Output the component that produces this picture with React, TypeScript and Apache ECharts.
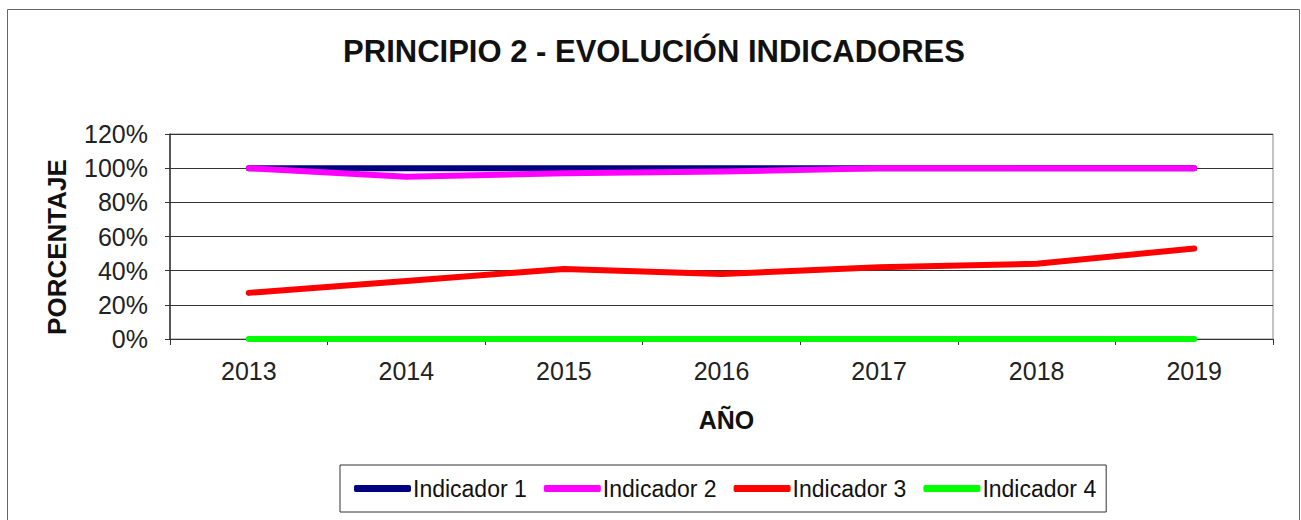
import React, { useEffect, useRef } from "react";
import * as echarts from "echarts";

const years = ["2013", "2014", "2015", "2016", "2017", "2018", "2019"];
const indicador1 = [100, 100, 100, 100, 100, 100, 100];
const indicador2 = [100, 95, 97, 98, 100, 100, 100];
const indicador3 = [27, 34, 41, 38, 42, 44, 53];
const indicador4 = [0, 0, 0, 0, 0, 0, 0];
const seriesNames = ["Indicador 1", "Indicador 2", "Indicador 3", "Indicador 4"];
const seriesColors = ["#000080", "#FF00FF", "#FF0000", "#00FF00"];

export default function App() {
  const ref = useRef<HTMLDivElement>(null);
  useEffect(() => {
    document.body.style.margin = "0";
    const chart = echarts.init(ref.current!, null, { renderer: "svg" });
    const font = "'Liberation Sans', Arial, sans-serif";
    const dataSets = [indicador1, indicador2, indicador3, indicador4];
    chart.setOption({
      animation: false,
      backgroundColor: "#ffffff",
      textStyle: { fontFamily: font },
      title: {
        text: "PRINCIPIO 2 - EVOLUCIÓN INDICADORES",
        left: 649,
        textAlign: "center",
        top: 31,
        textStyle: { fontFamily: font, fontSize: 31, fontWeight: "bold", color: "#111" },
      },
      graphic: [
        {
          type: "rect",
          shape: { x: 7.5, y: 9.5, width: 1292, height: 530 },
          style: { fill: "none", stroke: "#666", lineWidth: 1 },
          silent: true,
        },
        {
          type: "text",
          x: 57,
          y: 247,
          rotation: Math.PI / 2,
          style: {
            text: "PORCENTAJE",
            fontFamily: font,
            fontSize: 26,
            fontWeight: "bold",
            fill: "#111",
            textAlign: "center",
            textVerticalAlign: "middle",
          },
          silent: true,
        },
      ],
      legend: {
        left: 340,
        top: 465,
        data: seriesNames,
        icon: "roundRect",
        itemWidth: 57,
        itemHeight: 7,
        itemGap: 17,
        padding: [12, 10, 12, 14],
        borderColor: "#333",
        borderWidth: 1,
        textStyle: { fontFamily: font, fontSize: 23, color: "#111", padding: [0, 0, 0, -3] },
      },
      grid: {
        left: 170,
        right: 28,
        top: 134,
        bottom: 181,
        show: true,
        borderColor: "#888",
        borderWidth: 1,
      },
      xAxis: {
        type: "category",
        data: years,
        boundaryGap: true,
        name: "AÑO",
        nameLocation: "middle",
        nameGap: 68,
        nameTextStyle: { fontFamily: font, fontSize: 25, fontWeight: "bold", color: "#111", padding: [0, 0, 0, 10] },
        axisLine: { lineStyle: { color: "#333", width: 1 } },
        axisTick: { show: true, length: 6, lineStyle: { color: "#333" } },
        axisLabel: { fontFamily: font, fontSize: 25, color: "#222", margin: 19 },
      },
      yAxis: {
        type: "value",
        min: 0,
        max: 120,
        interval: 20,
        axisLine: { show: true, lineStyle: { color: "#333", width: 1.5 } },
        axisTick: { show: true, length: 5, lineStyle: { color: "#333" } },
        axisLabel: { fontFamily: font, fontSize: 25, color: "#222", margin: 22, formatter: "{value}%" },
        splitLine: { lineStyle: { color: "#333", width: 1 } },
      },
      series: seriesNames.map((name, i) => ({
        name,
        type: "line",
        data: dataSets[i],
        showSymbol: false,
        symbol: "none",
        lineStyle: { color: seriesColors[i], width: 6, cap: "round", join: "round" },
        itemStyle: { color: seriesColors[i] },
      })),
    });
    return () => chart.dispose();
  }, []);
  return <div ref={ref} style={{ width: 1301, height: 520 }} />;
}
